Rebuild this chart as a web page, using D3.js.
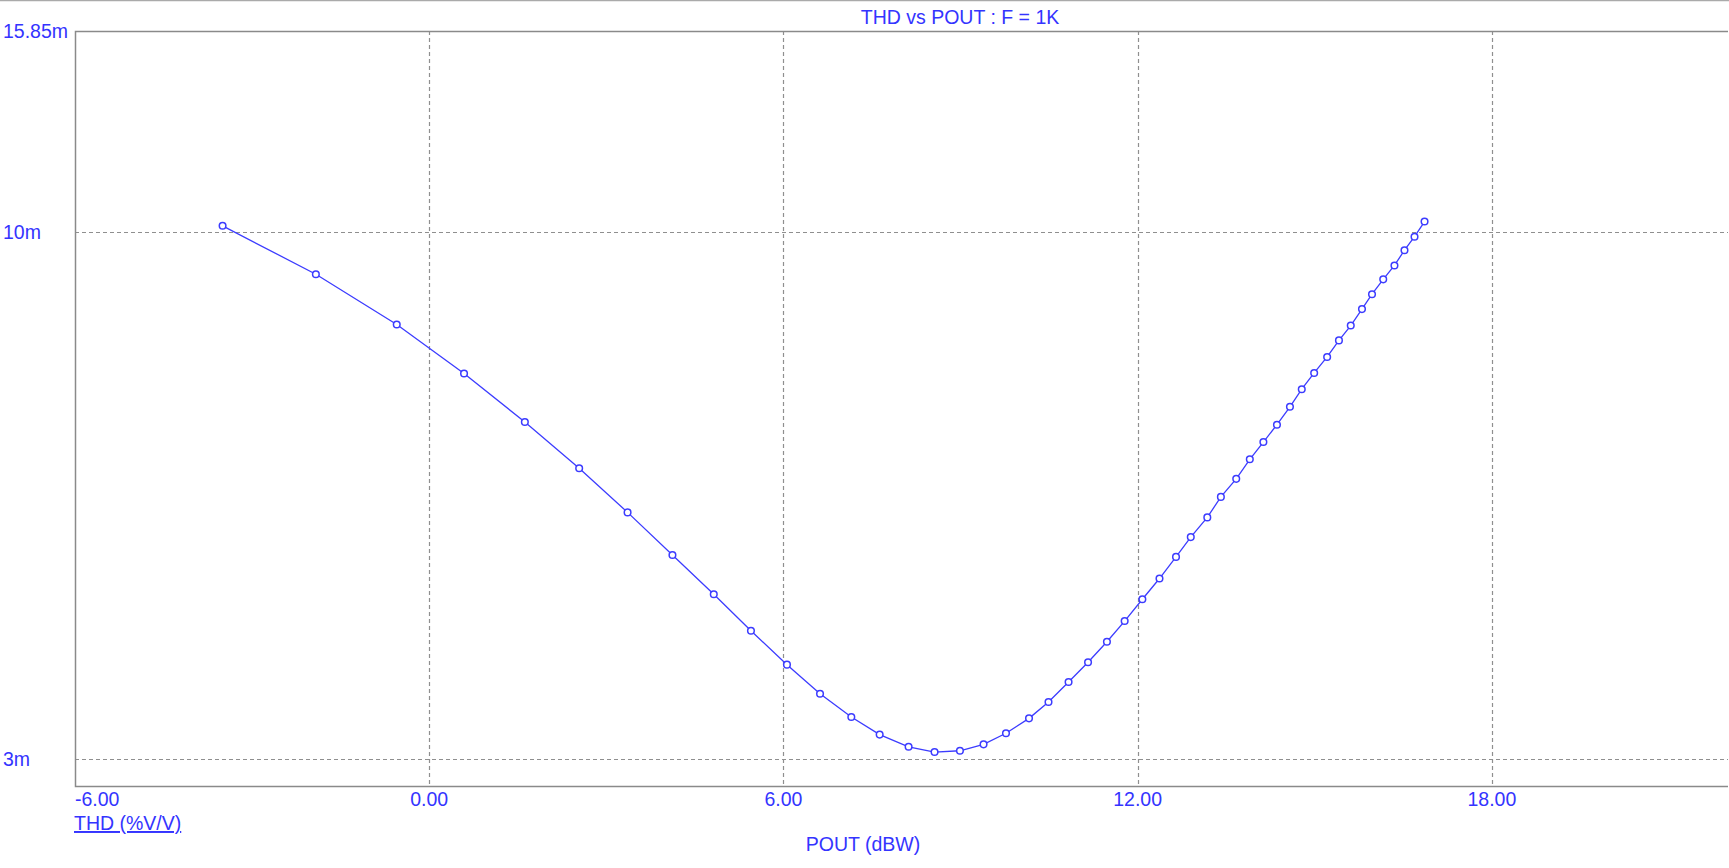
<!DOCTYPE html>
<html>
<head>
<meta charset="utf-8">
<script src="https://cdn.jsdelivr.net/npm/d3@7"></script>
<style>
  html, body { margin: 0; padding: 0; background: #fff; }
  svg { display: block; }
  text { font-family: "Liberation Sans", Arial, sans-serif; }
</style>
</head>
<body>
<svg id="chart" width="1729" height="868"></svg>
<script>
// ---- data (POUT in dBW, THD in milli %V/V) ----
const pout = [-3.50, -1.92, -0.55, 0.59, 1.62, 2.54, 3.36, 4.12, 4.82, 5.45,
  6.06, 6.62, 7.15, 7.63, 8.12, 8.56, 8.99, 9.39, 9.77, 10.16,
  10.49, 10.83, 11.16, 11.48, 11.78, 12.08, 12.37, 12.65, 12.90, 13.18,
  13.41, 13.67, 13.90, 14.13, 14.36, 14.58, 14.78, 14.99, 15.21, 15.41,
  15.61, 15.80, 15.97, 16.16, 16.35, 16.52, 16.69, 16.86];
const thd = [10.15, 9.085, 8.10, 7.24, 6.48, 5.83, 5.27, 4.78, 4.37, 4.02,
  3.72, 3.48, 3.30, 3.17, 3.083, 3.046, 3.055, 3.10, 3.18, 3.29,
  3.415, 3.575, 3.74, 3.92, 4.11, 4.32, 4.53, 4.76, 4.98, 5.21,
  5.46, 5.69, 5.95, 6.19, 6.44, 6.71, 6.985, 7.25, 7.52, 7.81,
  8.08, 8.39, 8.68, 8.98, 9.27, 9.60, 9.90, 10.25];
const xTicks = [-6, 0, 6, 12, 18];
const xTickLabels = ["-6.00", "0.00", "6.00", "12.00", "18.00"];
const yTicks = [15.849, 10, 3];
const yTickLabels = ["15.85m", "10m", "3m"];
const xDomain = [-6, 22];
const yDomain = [Math.pow(10, 0.45), Math.pow(10, 1.2)];
const title = "THD vs POUT : F = 1K";
const xTitle = "POUT (dBW)";
const yTitle = "THD (%V/V)";

// ---- layout ----
const L = 75, R = 1728, T = 31, B = 786;
const blue = "#3434ff";
const lineBlue = "#3c3cff";
const grid = "#8f8f8f";
const fs = 19.5;

const svg = d3.select("#chart");
const x = d3.scaleLinear().domain(xDomain).range([L, R]);
const y = d3.scaleLog().domain(yDomain).range([B, T]);

// window top line
svg.append("line").attr("x1", 0).attr("x2", 1729).attr("y1", 0.5).attr("y2", 0.5)
  .attr("stroke", "#aaa").attr("stroke-width", 1.5);

// gridlines
svg.append("g").selectAll("line").data(xTicks.filter(d => d > xDomain[0]))
  .join("line")
  .attr("x1", d => Math.round(x(d)) + 0.5).attr("x2", d => Math.round(x(d)) + 0.5)
  .attr("y1", T).attr("y2", B)
  .attr("stroke", grid).attr("stroke-width", 1.2).attr("stroke-dasharray", "4,3");
svg.append("g").selectAll("line").data(yTicks.filter(d => d < yDomain[1] - 0.01))
  .join("line")
  .attr("x1", L).attr("x2", R)
  .attr("y1", d => Math.round(y(d)) + 0.5).attr("y2", d => Math.round(y(d)) + 0.5)
  .attr("stroke", grid).attr("stroke-width", 1.2).attr("stroke-dasharray", "4,3");

// frame (left, top, bottom)
svg.append("path")
  .attr("d", `M${R},${T + 0.5}H${L + 0.5}V${B + 0.5}H${R}`)
  .attr("fill", "none").attr("stroke", "#8a8a8a").attr("stroke-width", 1.5);

// x tick labels
svg.append("g").selectAll("text").data(xTicks)
  .join("text")
  .attr("x", d => d === xDomain[0] ? L : x(d))
  .attr("y", 806)
  .attr("text-anchor", d => d === xDomain[0] ? "start" : "middle")
  .attr("fill", blue).attr("font-size", fs)
  .text((d, i) => xTickLabels[i]);

// y tick labels
svg.append("g").selectAll("text").data(yTicks)
  .join("text")
  .attr("x", 3)
  .attr("y", d => y(d) + 7)
  .attr("fill", blue).attr("font-size", fs)
  .text((d, i) => yTickLabels[i]);

// titles
svg.append("text").attr("x", 960).attr("y", 24).attr("text-anchor", "middle")
  .attr("fill", blue).attr("font-size", fs).text(title);
svg.append("text").attr("x", 863).attr("y", 851).attr("text-anchor", "middle")
  .attr("fill", blue).attr("font-size", fs).text(xTitle);
svg.append("text").attr("x", L - 1).attr("y", 830)
  .attr("fill", blue).attr("font-size", fs)
  .attr("text-decoration", "underline").text(yTitle);

// curve
const pts = pout.map((p, i) => [p, thd[i]]);
svg.append("path").datum(pts)
  .attr("d", d3.line().x(d => x(d[0])).y(d => y(d[1])))
  .attr("fill", "none").attr("stroke", lineBlue).attr("stroke-width", 1.3);
svg.append("g").selectAll("circle").data(pts)
  .join("circle")
  .attr("cx", d => x(d[0])).attr("cy", d => y(d[1])).attr("r", 3.3)
  .attr("fill", "#fff").attr("stroke", lineBlue).attr("stroke-width", 1.5);
</script>
</body>
</html>
